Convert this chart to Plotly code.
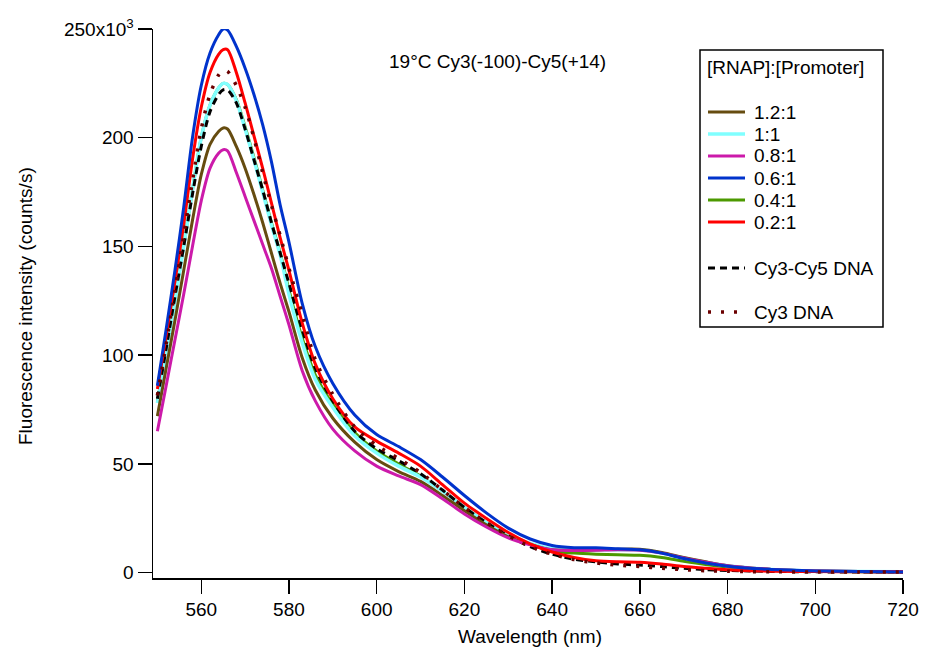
import plotly.graph_objects as go

# ---------------- data ----------------
wavelength = [550, 552, 554, 556, 558, 560, 562, 564, 565, 566, 568, 570, 572, 574, 576, 578,
              580, 583, 586, 590, 595, 600, 605, 610, 615, 620, 625, 630, 635, 640, 645, 650,
              655, 660, 665, 670, 675, 680, 685, 690, 700, 710, 720]

# fluorescence intensity in units of 10^3 counts/s
r_1_2 = [72, 94, 116, 139, 162, 183, 197, 203, 204.5, 204, 196, 186, 174, 161, 147, 133,
         120, 99, 84, 71, 60, 52, 46.5, 42, 35.5, 28.5, 22, 16.5, 13, 10.5, 10.3, 10.5,
         10.8, 10.8, 9.3, 7, 5, 3.2, 2.2, 1.5, 0.8, 0.5, 0.4]
r_1_0 = [78, 101, 125, 150, 176, 200, 215, 223, 225, 224.5, 217, 204, 190, 175, 160, 146,
         128, 106, 89, 76, 63, 55, 49, 44, 37.5, 30, 23, 17.5, 13.5, 11, 10.5, 10.5,
         10.5, 10.5, 9, 6.8, 4.8, 3.2, 2.2, 1.5, 0.8, 0.5, 0.4]
r_0_8 = [65, 86, 107, 128, 150, 171, 186, 193, 194.5, 194, 184, 173, 162, 151, 140, 127,
         114, 93, 79, 66, 56, 49, 44.5, 40.5, 34, 27, 21, 16, 12.8, 10.5, 10.2, 10.3,
         10.5, 10.3, 9, 6.8, 4.8, 3.2, 2.2, 1.5, 0.8, 0.5, 0.4]
r_0_6 = [86, 112, 139, 168, 200, 224, 239, 247.5, 250, 249.5, 242, 232, 220, 206, 189, 169,
         152, 124, 104, 87, 72.5, 63.5, 58, 52, 44, 35.5, 27.5, 20.5, 15.5, 12.5, 11.5, 11.5,
         11, 10.5, 9, 6.5, 4.5, 3, 2, 1.5, 0.8, 0.5, 0.3]
r_0_4 = [78.5, 101.5, 125.5, 150.5, 176, 200, 215, 223, 225, 224.5, 217.5, 205, 191, 176, 161, 147,
         130, 108, 91, 77.5, 64.5, 56, 50, 44.5, 37.5, 30, 23, 17.2, 13, 10, 9, 8.5,
         8.2, 8, 7, 5.3, 3.8, 2.6, 1.8, 1.2, 0.7, 0.45, 0.35]
r_0_2 = [84.5, 109, 134, 160, 190, 214, 230, 238.5, 240.5, 240.5, 230, 216, 201, 186, 170, 154,
         139, 115, 96, 80, 67, 60.5, 55, 49, 40.5, 32, 25, 18.5, 13.3, 9.5, 7, 5.5,
         5, 4.8, 4, 2.8, 2, 1.3, 0.9, 0.7, 0.5, 0.4, 0.3]
cy3_cy5_dna = [80, 103, 127, 150, 174, 196, 212, 220, 222, 222, 216, 204, 190, 176, 161, 147,
               133, 112, 94, 79, 65, 57, 51.5, 45.5, 38, 30, 23, 17, 12, 8.5, 6.2, 5,
               4, 3.5, 2.8, 2, 1.4, 1, 0.8, 0.6, 0.4, 0.3, 0.3]
cy3_dna = [81.5, 105, 130, 155, 180, 204, 220, 229, 231, 230.5, 224, 214, 200, 184, 169, 155,
           140, 119, 98, 82, 67, 58.5, 52.5, 46, 38, 30, 23, 17, 12, 8.5, 6, 4.5,
           3.5, 2.8, 2, 1.4, 0.9, 0.7, 0.5, 0.4, 0.35, 0.3, 0.3]

legend_names = ["1.2:1", "1:1", "0.8:1", "0.6:1", "0.4:1", "0.2:1", "Cy3-Cy5 DNA", "Cy3 DNA"]
y_tick_vals = [0, 50, 100, 150, 200, 250]
y_tick_text = ["0", "50", "100", "150", "200", "250x10<sup>3</sup>"]
x_tick_vals = [560, 580, 600, 620, 640, 660, 680, 700, 720]

# ---------------- styles ----------------
FONT = "Liberation Sans, Arial, Helvetica, sans-serif"
FS = 19
styles = {
    "1.2:1": dict(color="#664C10", width=3, dash="solid"),
    "1:1": dict(color="#80FFFF", width=3.5, dash="solid"),
    "0.8:1": dict(color="#CC1AAA", width=3, dash="solid"),
    "0.6:1": dict(color="#0033CC", width=3, dash="solid"),
    "0.4:1": dict(color="#4C9900", width=3, dash="solid"),
    "0.2:1": dict(color="#FF0000", width=3, dash="solid"),
    "Cy3-Cy5 DNA": dict(color="#000000", width=3, dash="7px,5px"),
    "Cy3 DNA": dict(color="#6B0000", width=3.5, dash="3px,10px"),
}
series = {
    "1.2:1": r_1_2, "1:1": r_1_0, "0.8:1": r_0_8, "0.6:1": r_0_6,
    "0.4:1": r_0_4, "0.2:1": r_0_2, "Cy3-Cy5 DNA": cy3_cy5_dna, "Cy3 DNA": cy3_dna,
}
draw_order = ["0.4:1", "1:1", "Cy3-Cy5 DNA", "1.2:1", "0.8:1", "0.2:1", "0.6:1", "Cy3 DNA"]

fig = go.Figure()
for name in draw_order:
    fig.add_trace(go.Scatter(
        x=wavelength, y=series[name], mode="lines", name=name,
        line=dict(shape="spline", smoothing=0.8, **styles[name]),
        showlegend=False, hoverinfo="skip"))

# ---------------- layout ----------------
W, H = 925, 652
L, T = 153, 29
R = W - 903
B = H - 578
PW, PH = W - L - R, H - T - B


def px(xs):
    return (xs - L) / PW


def py(ys):
    return (H - B - ys) / PH


fig.update_layout(
    width=W, height=H, margin=dict(l=L, r=R, t=T, b=B, autoexpand=False),
    paper_bgcolor="white", plot_bgcolor="white",
    font=dict(family=FONT, size=FS, color="black"),
    showlegend=False,
    xaxis=dict(range=[549, 720], tickvals=x_tick_vals, ticks="outside", ticklen=14,
               tickwidth=1.5, tickcolor="black", showline=True, linecolor="black",
               linewidth=1.5, showgrid=False, zeroline=False, ticklabeloverflow="allow",
               automargin=False, tickfont=dict(family=FONT, size=FS)),
    yaxis=dict(range=[-2.44, 250], tickvals=y_tick_vals, ticktext=y_tick_text,
               ticks="outside", ticklen=14, tickwidth=1.5, tickcolor="black",
               showline=True, linecolor="black", linewidth=1.5, showgrid=False,
               zeroline=False, ticklabeloverflow="allow", automargin=False,
               tickfont=dict(family=FONT, size=FS)),
)

annotations = [
    dict(text="Wavelength (nm)", x=px(530), y=py(636), xref="paper", yref="paper",
         showarrow=False, xanchor="center", yanchor="middle", font=dict(size=FS)),
    dict(text="Fluorescence intensity (counts/s)", x=px(25), y=py(306), xref="paper",
         yref="paper", showarrow=False, textangle=-90, xanchor="center",
         yanchor="middle", font=dict(size=FS)),
    dict(text="19°C Cy3(-100)-Cy5(+14)", x=px(497), y=py(62), xref="paper", yref="paper",
         showarrow=False, xanchor="center", yanchor="middle", font=dict(size=FS)),
    dict(text="[RNAP]:[Promoter]", x=px(705), y=py(68), xref="paper", yref="paper",
         showarrow=False, xanchor="left", yanchor="middle", font=dict(size=FS)),
]
shapes = [
    dict(type="rect", xref="paper", yref="paper", x0=px(700), x1=px(883),
         y0=py(327), y1=py(50), line=dict(color="black", width=1.5),
         fillcolor="white", layer="above"),
]
legend_y = [112, 134, 156, 178, 200, 222, 268, 312]
for name, yy in zip(legend_names, legend_y):
    st = styles[name]
    shapes.append(dict(type="line", xref="paper", yref="paper", x0=px(708), x1=px(745),
                       y0=py(yy), y1=py(yy),
                       line=dict(color=st["color"], width=st["width"],
                                 dash=st["dash"] if st["dash"] != "solid" else None),
                       layer="above"))
    annotations.append(dict(text=name, x=px(752), y=py(yy), xref="paper", yref="paper",
                            showarrow=False, xanchor="left", yanchor="middle",
                            font=dict(size=FS)))

fig.update_layout(annotations=annotations, shapes=shapes)
# remove the browser's default 8px page margin so the figure fills the window
fig.write_html("out.html", config={"displayModeBar": False, "staticPlot": True},
               post_script="document.body.style.margin='0';document.body.style.overflow='hidden';")
